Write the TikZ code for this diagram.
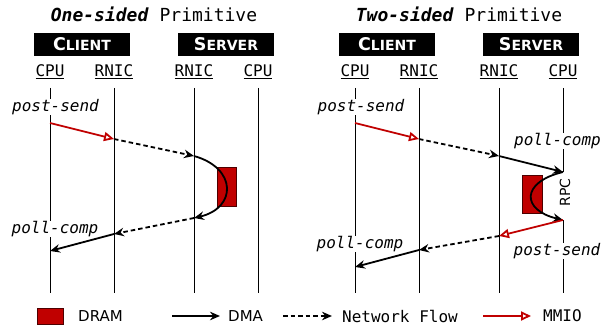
\documentclass[tikz,border=0pt]{standalone}
\usepackage{fontspec}
\setmonofont{DejaVu Sans Mono}
\newfontfamily\hsans{DejaVu Sans}
\usetikzlibrary{arrows.meta}
\definecolor{mred}{HTML}{C00000}
\tikzset{
  life/.style={line width=1pt},
  dma/.style={line width=1.8pt, -{Stealth[length=10pt,width=8.5pt]}},
  net/.style={line width=1.8pt, dash pattern=on 4.5pt off 3pt, -{Stealth[length=10pt,width=8.5pt]}},
  mmio/.style={line width=1.8pt, draw=mred, -{Triangle[open,length=10pt,width=9pt]}},
  dram/.style={draw=black!60!mred, fill=mred, line width=1pt},
  lbl/.style={font=\ttfamily\itshape\fontsize{16}{16}\selectfont, fill=white, inner sep=0.5pt},
  col/.style={font=\ttfamily\fontsize{16}{16}\selectfont, anchor=base, inner sep=0pt},
  role/.style={fill=black, text=white, minimum width=96pt, minimum height=23pt, inner sep=0pt, font=\hsans\bfseries},
  ttl/.style={font=\ttfamily\fontsize{18}{18}\selectfont, anchor=base, inner sep=0pt},
  leg/.style={anchor=west, inner sep=0pt},
  legsans/.style={leg, font=\hsans\fontsize{15}{15}\selectfont},
  legmono/.style={leg, font=\ttfamily\fontsize{16}{16}\selectfont},
}
\newcommand{\rolename}[2]{{\fontsize{17.5}{17.5}\selectfont #1}{\fontsize{14}{14}\selectfont #2}}
\begin{document}
\begin{tikzpicture}[x=1pt,y=-1pt]
\useasboundingbox (0,0) rectangle (603,326);

% titles
\node[ttl] (t1) at (154,22) {\textbf{\textit{One-sided}} Primitive};
\node[ttl] (t2) at (459,22) {\textbf{\textit{Two-sided}} Primitive};

% role boxes
\node[role] (c1) at (82,44.5) {\rolename{C}{LIENT}};
\node[role] (s1) at (226,44.5) {\rolename{S}{ERVER}};
\node[role] (c2) at (387,44.5) {\rolename{C}{LIENT}};
\node[role] (s2) at (531,44.5) {\rolename{S}{ERVER}};

% column labels
\node[col] (h1) at (50,77) {\underline{CPU}};
\node[col] (h2) at (114,77) {\underline{RNIC}};
\node[col] (h3) at (194,77) {\underline{RNIC}};
\node[col] (h4) at (258,77) {\underline{CPU}};
\node[col] (h5) at (355,77) {\underline{CPU}};
\node[col] (h6) at (419,77) {\underline{RNIC}};
\node[col] (h7) at (499,77) {\underline{RNIC}};
\node[col] (h8) at (563,77) {\underline{CPU}};

% event coordinates
\coordinate (A1) at (50,123);
\coordinate (A2) at (114,139);
\coordinate (A3) at (194,156);
\coordinate (A4) at (194,218);
\coordinate (A5) at (114,234);
\coordinate (A6) at (50,251);
\coordinate (B1) at (355,123);
\coordinate (B2) at (419,139);
\coordinate (B3) at (499,156);
\coordinate (B4) at (563,172);
\coordinate (B5) at (563,220);
\coordinate (B6) at (499,236);
\coordinate (B7) at (419,250);
\coordinate (B8) at (355,267);

% lifelines
\foreach \x/\n in {50/l1,114/l2,194/l3,258/l4,355/l5,419/l6,499/l7}{
  \coordinate (\n t) at (\x,88);
  \coordinate (\n b) at (\x,293);
  \draw[life] (\n t) -- (\n b);
}
\coordinate (l8t) at (563,88);
\coordinate (l8b) at (563,293);
\draw[life] (l8t) -- (B4);
\draw[life] (B5) -- (l8b);

% labels
\node[lbl] (ps1) at (55.5,107) {post-send};
\node[lbl] (pc1) at (55,229) {poll-comp};
\node[lbl] (ps2) at (361,107) {post-send};
\node[lbl] (pc2) at (557.5,141) {poll-comp};
\node[lbl] (ps3) at (557,251) {post-send};
\node[lbl] (pc3) at (360,244) {poll-comp};
\node[font=\hsans\fontsize{14}{14}\selectfont, rotate=90, inner sep=0pt] (rpc) at (565,192.5) {RPC};

% DRAM
\draw[dram] (217,168) rectangle (236,207);
\draw[dram] (522,176) rectangle (542,214);

% one-sided
\draw[mmio] (A1) -- (A2);
\draw[net] (A2) -- (A3);
\draw[dma] (A3) .. controls (237,168) and (237,208) .. (A4);
\draw[net] (A4) -- (A5);
\draw[dma] (A5) -- (A6);

% two-sided
\draw[mmio] (B1) -- (B2);
\draw[net] (B2) -- (B3);
\draw[dma] (B3) -- (B4);
\draw[dma] (B4) .. controls (521,182) and (521,210) .. (B5);
\draw[mmio] (B5) -- (B6);
\draw[net] (B6) -- (B7);
\draw[dma] (B7) -- (B8);

% legend
\draw[dram] (37,308) rectangle (63,324);
\node[legsans] (lg1) at (78,316) {DRAM};
\coordinate (d1) at (172,316);
\coordinate (d2) at (220,316);
\draw[dma] (d1) -- (d2);
\node[legsans] (lg2) at (228,316) {DMA};
\coordinate (n1) at (283,316);
\coordinate (n2) at (332,316);
\draw[net] (n1) -- (n2);
\node[legmono] (lg3) at (342,316) {Network Flow};
\coordinate (m1) at (483,316);
\coordinate (m2) at (531,316);
\draw[mmio] (m1) -- (m2);
\node[legmono] (lg4) at (543,316) {MMIO};
\end{tikzpicture}
\end{document}
